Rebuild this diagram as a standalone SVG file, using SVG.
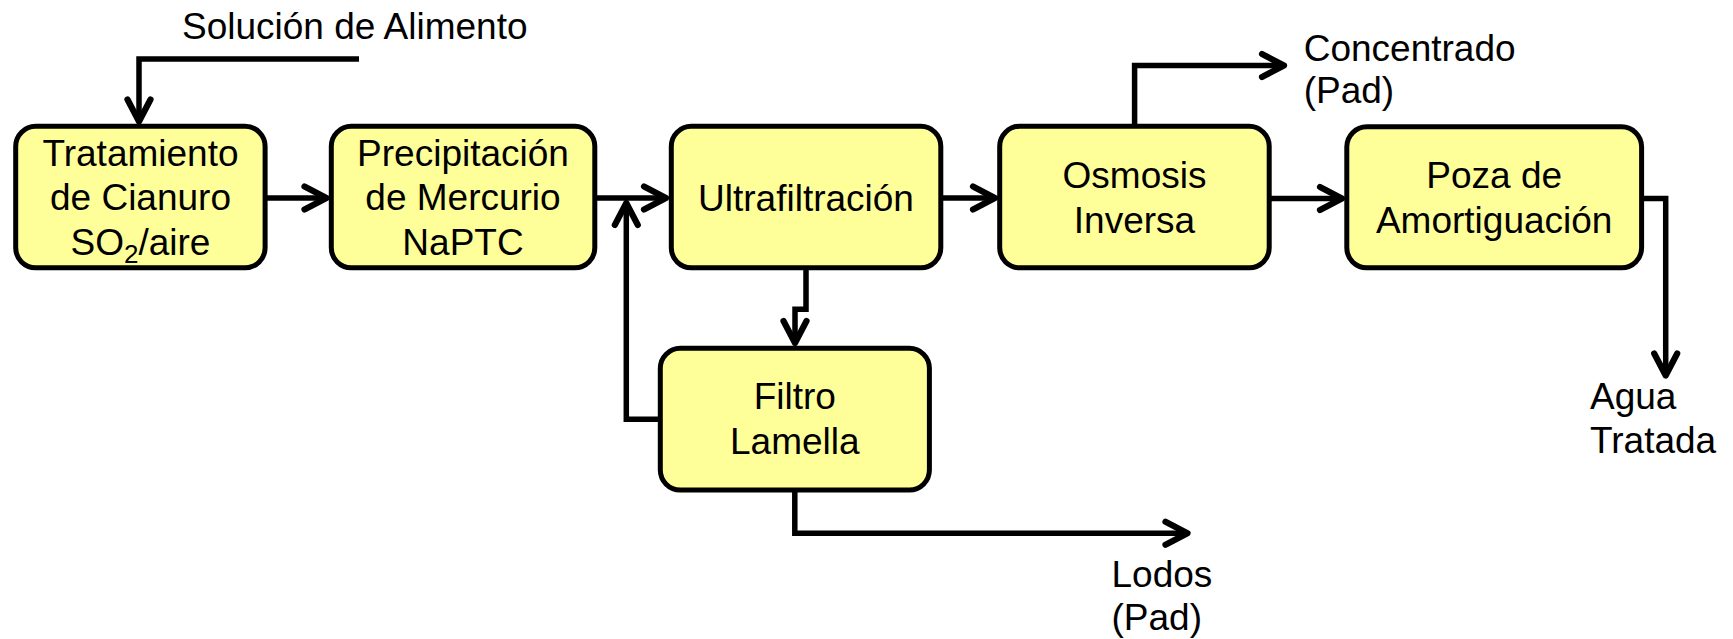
<svg xmlns="http://www.w3.org/2000/svg" width="1733" height="639" viewBox="0 0 1733 639">
<style>
.box{fill:#FFFF99;stroke:#000;stroke-width:5}
.t{font-family:"Liberation Sans",Arial,sans-serif;font-size:37px;fill:#000}
.c{text-anchor:middle}
.ln{fill:none;stroke:#000;stroke-width:5.5;stroke-linejoin:miter}
</style>
<defs>
<marker id="ah" viewBox="-28 -16 32 32" markerWidth="32" markerHeight="32" refX="0" refY="0" orient="auto" markerUnits="userSpaceOnUse">
<path d="M-22,-11.5 L0,0 L-22,11.5" fill="none" stroke="#000" stroke-width="6.2" stroke-linecap="round" stroke-linejoin="round"/>
</marker>
</defs>
<rect width="1733" height="639" fill="#fff"/>
<g id="connectors">
<path class="ln" d="M359,59 H139 V121.5" marker-end="url(#ah)"/>
<path class="ln" d="M267,198 H326.5" marker-end="url(#ah)"/>
<path class="ln" d="M597,198 H666" marker-end="url(#ah)"/>
<path class="ln" d="M658,419.3 H626.3 V203" marker-end="url(#ah)"/>
<path class="ln" d="M943,198 H995" marker-end="url(#ah)"/>
<path class="ln" d="M1271,198.5 H1342" marker-end="url(#ah)"/>
<path class="ln" d="M1134.6,124 V65.5 H1284" marker-end="url(#ah)"/>
<path class="ln" d="M1643.6,198.5 H1665.7 V375.5" marker-end="url(#ah)"/>
<path class="ln" d="M806,270 V309.3 H795 V343" marker-end="url(#ah)"/>
<path class="ln" d="M794.8,492 V533.3 H1187.5" marker-end="url(#ah)"/>
</g>
<g id="n-feed"><text class="t" x="182" y="39.3">Solución de Alimento</text></g>
<g id="n-cianuro">
<rect class="box" x="15.7" y="126.3" width="249.4" height="141.5" rx="20"/>
<text class="t c" x="140.5" y="165.5">Tratamiento</text>
<text class="t c" x="140.5" y="210">de Cianuro</text>
<text class="t c" x="140.5" y="254.5">SO<tspan font-size="26" dy="8">2</tspan><tspan dy="-8">/aire</tspan></text>
</g>
<g id="n-precip">
<rect class="box" x="331.3" y="126.3" width="263.5" height="141.5" rx="20"/>
<text class="t c" x="463" y="165.5">Precipitación</text>
<text class="t c" x="463" y="210">de Mercurio</text>
<text class="t c" x="463" y="254.5">NaPTC</text>
</g>
<g id="n-ultra">
<rect class="box" x="671.3" y="126.3" width="269.5" height="141.5" rx="20"/>
<text class="t c" x="806" y="210.5">Ultrafiltración</text>
</g>
<g id="n-osmosis">
<rect class="box" x="999.7" y="126.3" width="269.5" height="141.5" rx="20"/>
<text class="t c" x="1134.5" y="188.3">Osmosis</text>
<text class="t c" x="1134.5" y="233">Inversa</text>
</g>
<g id="n-poza">
<rect class="box" x="1346.8" y="126.8" width="294.8" height="141" rx="20"/>
<text class="t c" x="1494.2" y="188.3">Poza de</text>
<text class="t c" x="1494.2" y="233">Amortiguación</text>
</g>
<g id="n-filtro">
<rect class="box" x="660.3" y="348.3" width="269.1" height="141.8" rx="20"/>
<text class="t c" x="794.8" y="409.3">Filtro</text>
<text class="t c" x="794.8" y="454">Lamella</text>
</g>
<g id="n-concentrado">
<text class="t" x="1303.7" y="61">Concentrado</text>
<text class="t" x="1303.7" y="103.3">(Pad)</text>
</g>
<g id="n-agua">
<text class="t" x="1590" y="409.3">Agua</text>
<text class="t" x="1590" y="453.3">Tratada</text>
</g>
<g id="n-lodos">
<text class="t" x="1111.5" y="586.7">Lodos</text>
<text class="t" x="1111.5" y="630">(Pad)</text>
</g>
</svg>
